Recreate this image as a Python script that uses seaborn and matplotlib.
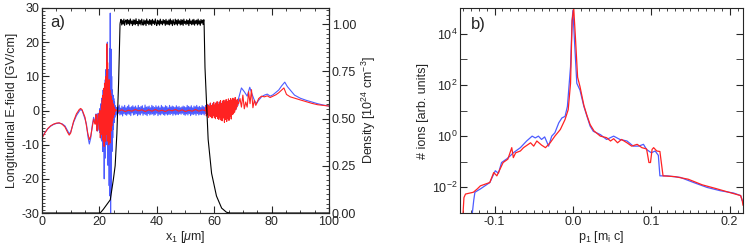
import numpy as np
import matplotlib
matplotlib.use("Agg")
import matplotlib.pyplot as plt
import seaborn as sns
from matplotlib.ticker import MultipleLocator, FixedLocator, LogFormatterSciNotation

# ---------- panel a) longitudinal field ----------
x_blue_a = [0, 1, 2, 3, 4, 5, 6, 7, 8, 9, 9.5, 10, 11, 12, 13, 13.5, 14, 15, 15.5, 16, 16.5, 17, 17.5, 18, 18.5]
e_blue_a = [-8.0, -6.5, -5.4, -4.6, -4.1, -3.8, -3.7, -3.9, -4.5, -6.0, -6.8, -6.3, -3.5, -1.5, -0.2, 0.3, 0.0,
            -2.5, -4.0, -7.5, -9.8, -8.0, -4.5, -2.0, -3.5]
x_red_a = x_blue_a
e_red_a = [-8.1, -6.6, -5.3, -4.5, -4.0, -3.7, -3.6, -4.0, -4.8, -6.5, -7.2, -6.6, -3.2, -1.0, 0.3, 0.6, 0.2,
           -2.0, -4.5, -6.8, -8.5, -7.5, -5.0, -2.5, -4.0]

# burst near the front surface (x = 18.6 .. 25.4 um)
e_blue_burst = [-3.5, -2.0, -1.0, -2.5, -5.0, -6.0, -4.0, -1.5, -0.8, -3.0,
                -5.8, -3.0, 0.5, -6.5, -1.5, -4.0, 2.0, -8.5, 3.5, -9.0,
                4.0, -12.0, 6.0, -9.0, 5.0, -20.0, 7.5, -14.0, 9.0, -6.0,
                12.0, -10.0, 15.0, -8.0, 20.0, -16.0, 12.0, -12.0, 8.0, -22.0, 18.0, -25.0,
                28.5, -31.0, 18.0, -24.0,
                10.0, -12.0, 6.0, -8.0, 4.5, -5.5, 3.5, -3.5, 2.5, -2.0]
e_red_burst = [-4.0, -2.5, -1.2, -3.0, -5.5, -6.0, -3.5, -1.8, -1.0, -3.5,
               -5.5, -2.5, 0.0, -8.0, -2.0, -5.0, 1.5, -7.0, 3.0, -8.5,
               4.5, -9.0, 6.5, -10.5, 8.0, -8.0, 6.0, -9.0, 10.0, -7.0,
               19.5, -7.0, 14.0, -9.0, 7.0, -10.0, 9.0, -7.5, 6.0, -9.5,
               5.0, -6.0, 4.0, -4.5, 3.0, -3.0, 2.0, -2.0, 1.2, -1.2, 0.8, -0.4]

# inside the target (x = 25.5 .. 57 um)
e_blue_band = [1.4, -1.2, 0.9, -1.5, 1.1, -0.8, 1.6, -1.3, 0.7, -1.1, 1.3, -1.6, 1.0, -0.9, 1.5, -1.2, 0.8,
               -1.4, 1.2, -1.0, 1.6, -1.1, 0.9, -1.5, 1.1, -0.7, 1.4, -1.3, 1.0, -1.2, 1.3, -0.9, 0.8, -1.5,
               1.5, -1.1, 0.9, -1.3, 1.2, -0.8, 1.4, -1.4, 0.7, -1.0, 1.6, -1.2, 1.0, -1.5, 1.1, -0.9, 1.3,
               -1.3, 0.8, -1.1, 1.5, -1.0, 1.2, -1.4, 0.9, -1.2, 1.4, -0.8, 1.0, -1.5, 1.3, -1.1, 0.8, -1.3,
               1.5, -0.9, 1.1, -1.2, 0.9, -1.4, 1.4, -1.0, 1.2, -1.3, 0.8, -1.1, 1.5, -1.2, 1.0, -0.9, 1.3,
               -1.4, 1.1, -1.0, 0.9, -1.3, 1.4, -1.1, 1.0, -1.2, 1.2, -0.9, 0.8, -1.1, 1.0, -0.8, 1.3, -1.2,
               1.1, -1.4, 0.9, -1.0, 1.5, -1.3, 1.2, -0.9, 1.0, -1.5, 1.4, -1.1, 0.8, -1.2, 1.3, -1.0, 1.1,
               -1.4, 1.5, -0.9, 1.0, -1.3, 1.2, -1.1, 0.9, -1.2, 1.4, -1.0, 1.1, -1.3, 1.0, -0.9]
e_red_band = [0.3, -0.2, 0.2, -0.3, 0.1, -0.2, 0.3, -0.1, 0.2, -0.3, 0.2, -0.2, 0.3, -0.2, 0.1, -0.3, 0.2,
              -0.1, 0.3, -0.2, 0.2, -0.3, 0.1, -0.2, 0.3, -0.2, 0.2, -0.1]

# rear side (x = 57 .. 68.5 um)
e_blue_rear = [1.5, -1.4, 1.2, -1.6, 1.8, -1.2, 1.4, -1.8, 2.0, -1.3, 1.6, -1.5, 2.2, -1.2, 1.8, -1.7, 2.4,
               -1.0, 2.0, -1.6, 2.6, -1.2, 2.2, -1.4, 2.8, -0.8, 2.5, -1.3, 3.0, -0.6, 2.7, -1.0, 3.2, -0.5,
               2.9, 0.0, 3.4, 0.5, 3.0, 1.5]
e_red_rear = [1.0, -1.6, 1.8, -1.2, 1.5, -2.0, 1.2, -1.5, 2.2, -1.8, 1.4, -2.2, 1.9, -1.4, 2.4, -2.0, 1.6,
              -2.4, 2.1, -1.7, 2.6, -2.3, 1.8, -2.6, 2.5, -1.9, 2.9, -2.8, 2.0, -3.0, 2.8, -2.2, 3.0, -3.5,
              2.4, -2.6, 3.2, -3.2, 2.6, -2.4, 3.4, -2.9, 2.9, -1.8, 3.5, -2.5, 3.0, -1.2, 3.6, -1.0, 3.2,
              -0.5, 3.8, 0.2, 3.0, 1.0, 3.3, 2.0]

x_blue_b = [68.5, 69.5, 70.5, 71.5, 72.4, 73.2, 74.0, 74.7, 75.5, 76.5, 77.5, 78.5, 79.5, 80.5, 81.5, 82.5,
            83.5, 84.6, 85.5, 86.5, 88, 90, 92, 94, 96, 98, 100]
e_blue_b = [3.5, 6.6, 5.5, 4.2, 6.8, 4.8, 3.0, 2.0, 3.0, 4.0, 4.5, 4.8, 4.2, 4.6, 5.3, 6.0, 7.2, 8.3, 7.0,
            6.0, 4.5, 3.6, 3.0, 2.5, 2.0, 1.6, 1.3]
x_red_b = [68.5, 69, 69.5, 70, 70.5, 71, 71.5, 72, 72.5, 73, 73.5, 74, 74.5, 75.5, 76.5, 77.5, 78.5, 79.5,
           80.5, 81.5, 82.5, 83.5, 84.3, 85.2, 86.5, 88, 90, 92, 94, 96, 98, 100]
e_red_b = [2.0, 3.5, 1.0, 4.5, 0.5, 2.5, 1.0, 5.5, 2.0, 6.1, 0.8, 3.0, 1.5, 3.5, 4.2, 4.0, 4.3, 3.8, 4.2,
           4.6, 5.2, 6.0, 6.6, 4.7, 4.0, 3.6, 3.1, 2.6, 2.1, 1.7, 1.5, 1.3]

# density profile
x_dens_up = [0, 19, 20.3, 21.4, 22.6, 23.8, 24.9, 25.5, 26.1, 26.7, 27.2]
dens_up = [0, 0, 0.0, 0.02, 0.045, 0.07, 0.18, 0.25, 0.42, 0.69, 1.0]
dens_plateau = [1.01, 1.025, 0.995, 1.018, 1.0, 1.026, 0.993, 1.015, 1.022, 0.997, 1.024, 1.002, 1.02, 0.994,
                1.027, 1.004, 1.016, 0.992, 1.023, 0.999, 1.021, 0.996, 1.028, 1.003, 1.014, 0.991, 1.025,
                1.001, 1.019, 0.995, 1.026, 1.006, 0.994, 1.022, 1.0, 1.018, 0.992, 1.027, 1.004, 1.016,
                0.996, 1.024, 0.999, 1.02, 0.993, 1.025, 1.003, 1.017, 0.997, 1.027, 1.005, 0.992, 1.021,
                1.0, 1.018, 0.994, 1.026, 1.002, 1.015, 0.996, 1.024, 1.004, 1.019, 0.993, 1.025, 0.999,
                1.016, 0.997, 1.022, 0.995, 1.027, 1.001, 1.018, 0.992, 1.023, 1.005, 0.996, 1.026, 1.0,
                1.02, 0.994, 1.025, 1.003, 1.017, 0.995, 1.024, 0.998, 1.021, 0.993, 1.026, 1.004, 1.015,
                0.997, 1.023, 1.001, 1.019, 0.992, 1.027, 1.002, 1.016, 0.996, 1.022, 0.999, 1.025, 0.994,
                1.018, 1.003, 1.021, 0.995, 1.026, 1.0, 1.017, 0.993, 1.024, 1.005, 1.02, 0.997, 1.023]
x_dens_down = [56.5, 56.8, 57.9, 59.1, 60.8, 62.6, 64.3, 65.5, 100]
dens_down = [1.0, 0.77, 0.39, 0.21, 0.09, 0.026, 0.004, 0.0, 0.0]

# ---------- panel b) ion spectrum (log10 of counts) ----------
p_blue = [-0.129, -0.1265, -0.125, -0.118, -0.106, -0.099, -0.095, -0.091, -0.084, -0.08, -0.076, -0.067,
          -0.059, -0.052, -0.048, -0.044, -0.040, -0.036, -0.031, -0.027, -0.023, -0.018, -0.014, -0.01,
          -0.007, -0.003, -0.001, 0.0, 0.002, 0.005, 0.009, 0.014, 0.018, 0.022, 0.026, 0.035, 0.043,
          0.052, 0.06, 0.069, 0.077, 0.084, 0.09, 0.094, 0.1, 0.105, 0.109, 0.111, 0.12, 0.137, 0.154,
          0.171, 0.188, 0.205, 0.214, 0.216]
logn_blue = [-3.2, -2.5, -2.19, -2.06, -1.81, -1.35, -1.45, -1.03, -0.88, -0.77, -0.65, -0.45, -0.19, 0.0,
             -0.07, 0.0, -0.13, -0.03, -0.39, 0.0, 0.13, 0.52, 0.71, 0.77, 1.16, 2.71, 4.5, 4.9, 3.74, 2.06,
             1.8, 1.16, 0.77, 0.39, 0.19, 0.06, -0.13, 0.0, -0.13, -0.19, -0.39, -0.39, -0.32, -0.52, -0.65,
             -0.58, -0.75, -1.55, -1.55, -1.61, -1.81, -2.0, -2.13, -2.22, -2.32, -2.52]
p_red = [-0.1405, -0.139, -0.137, -0.127, -0.122, -0.118, -0.106, -0.101, -0.097, -0.089, -0.083, -0.078,
         -0.076, -0.073, -0.067, -0.063, -0.054, -0.05, -0.046, -0.04, -0.035, -0.029, -0.023, -0.016, -0.01,
         -0.006, -0.003, -0.001, 0.001, 0.003, 0.006, 0.009, 0.014, 0.018, 0.022, 0.027, 0.035, 0.043,
         0.048, 0.052, 0.057, 0.062, 0.069, 0.075, 0.082, 0.088, 0.094, 0.097, 0.099, 0.101, 0.103, 0.107,
         0.111, 0.115, 0.13, 0.147, 0.165, 0.183, 0.2, 0.214, 0.216, 0.217]
logn_red = [-3.2, -2.4, -2.26, -2.19, -2.06, -1.94, -1.81, -1.42, -1.55, -1.03, -0.9, -0.45, -0.84, -0.65,
            -0.58, -0.45, -0.26, -0.39, -0.19, -0.35, -0.45, -0.26, 0.0, 0.26, 0.65, 1.03, 2.06, 4.5, 5.0,
            3.97, 2.3, 1.94, 1.2, 0.8, 0.45, 0.2, 0.0, -0.06, -0.19, -0.1, -0.26, -0.13, -0.26, -0.39,
            -0.32, -0.45, -0.5, -1.03, -1.03, -0.52, -0.45, -0.58, -0.6, -1.55, -1.58, -1.68, -1.9, -2.05,
            -2.2, -2.32, -2.5, -2.7]

BLUE = "#4d5cff"
RED = "#ff2222"

sns.set_style("ticks")
plt.rcParams["font.family"] = ["Liberation Sans", "DejaVu Sans"]
plt.rcParams["mathtext.fontset"] = "custom"
plt.rcParams["mathtext.rm"] = "Liberation Sans"
plt.rcParams["mathtext.it"] = "Liberation Sans:italic"
plt.rcParams["axes.unicode_minus"] = False
plt.rcParams["font.size"] = 9

fig = plt.figure(figsize=(7.48, 2.46), dpi=100)
ax1 = fig.add_axes([0.0561, 0.1341, 0.3837, 0.8334])
ax2 = fig.add_axes([0.6150, 0.1341, 0.3783, 0.8334])


def seg(x0, x1, vals):
    # sample positions for a run of values read across [x0, x1]
    return np.linspace(x0, x1, len(vals))


# ----- panel a -----
xb = np.concatenate([x_blue_a, seg(18.6, 25.4, e_blue_burst), seg(25.5, 57.0, e_blue_band),
                     seg(57.1, 68.3, e_blue_rear), x_blue_b])
yb = np.concatenate([e_blue_a, e_blue_burst, e_blue_band, e_blue_rear, e_blue_b])
xr = np.concatenate([x_red_a, seg(18.6, 25.4, e_red_burst), seg(25.5, 57.0, e_red_band),
                     seg(57.1, 68.3, e_red_rear), x_red_b])
yr = np.concatenate([e_red_a, e_red_burst, e_red_band, e_red_rear, e_red_b])

sns.lineplot(x=xb, y=yb, ax=ax1, color=BLUE, lw=0.8, sort=False, estimator=None)
sns.lineplot(x=xr, y=yr, ax=ax1, color=RED, lw=0.8, sort=False, estimator=None)
ax1.set_xlim(0, 100)
ax1.set_ylim(-30, 30)
ax1.xaxis.set_major_locator(MultipleLocator(20))
ax1.xaxis.set_minor_locator(MultipleLocator(5))
ax1.yaxis.set_major_locator(MultipleLocator(10))
ax1.yaxis.set_minor_locator(MultipleLocator(1))
ax1.set_xlabel(r"x$_1$ [$\mu$m]", labelpad=1)
ax1.set_ylabel("Longitudinal E-field [GV/cm]", labelpad=2)
ax1.tick_params(which="both", direction="in", top=True, right=False, labelsize=9, pad=2)
ax1.tick_params(which="major", length=5)
ax1.tick_params(which="minor", length=2.5)
ax1.text(0.03, 0.93, "a)", transform=ax1.transAxes, fontsize=12, va="center")

ax1r = ax1.twinx()
xd = np.concatenate([x_dens_up, seg(27.3, 56.4, dens_plateau), x_dens_down])
yd = np.concatenate([dens_up, dens_plateau, dens_down])
sns.lineplot(x=xd, y=yd, ax=ax1r, color="black", lw=0.8, sort=False, estimator=None)
ax1r.set_ylim(0, 1.085)
ax1r.yaxis.set_major_locator(FixedLocator([0, 0.25, 0.5, 0.75, 1.0]))
ax1r.yaxis.set_minor_locator(MultipleLocator(0.025))
ax1r.yaxis.set_major_formatter(matplotlib.ticker.FormatStrFormatter("%.2f"))
ax1r.set_ylabel(r"Density [10$^{24}$ cm$^{-3}$]", labelpad=3)
ax1r.tick_params(which="both", direction="in", labelsize=9, pad=2)
ax1r.tick_params(which="major", length=5)
ax1r.tick_params(which="minor", length=2)

# ----- panel b -----
ax2.set_yscale("log")
sns.lineplot(x=p_blue, y=np.power(10.0, logn_blue), ax=ax2, color=BLUE, lw=0.9, sort=False, estimator=None)
sns.lineplot(x=p_red, y=np.power(10.0, logn_red), ax=ax2, color=RED, lw=0.9, sort=False, estimator=None)
ax2.set_xlim(-0.144, 0.217)
ax2.set_ylim(1e-3, 1e5)
ax2.xaxis.set_major_locator(FixedLocator([-0.1, 0.0, 0.1, 0.2]))
ax2.xaxis.set_major_formatter(matplotlib.ticker.FormatStrFormatter("%.1f"))
ax2.xaxis.set_minor_locator(MultipleLocator(0.01))
ax2.yaxis.set_major_locator(FixedLocator([1e-2, 1e0, 1e2, 1e4]))
ax2.yaxis.set_major_formatter(LogFormatterSciNotation())
ax2.yaxis.set_minor_locator(FixedLocator([1e-3, 1e-1, 1e1, 1e3]))
ax2.yaxis.set_minor_formatter(matplotlib.ticker.NullFormatter())
ax2.set_xlabel(r"p$_1$ [m$_\mathrm{i}$ c]", labelpad=1)
ax2.set_ylabel("# ions [arb. units]", labelpad=2)
ax2.tick_params(which="both", direction="in", top=True, right=True, labelsize=9, pad=2)
ax2.tick_params(which="major", length=5)
ax2.tick_params(axis="x", which="minor", length=2.5)
ax2.tick_params(axis="y", which="minor", length=5)
ax2.text(0.04, 0.92, "b)", transform=ax2.transAxes, fontsize=12, va="center")

for ax in (ax1, ax1r, ax2):
    for s in ax.spines.values():
        s.set_linewidth(0.8)

fig.savefig("out.png", dpi=100)
